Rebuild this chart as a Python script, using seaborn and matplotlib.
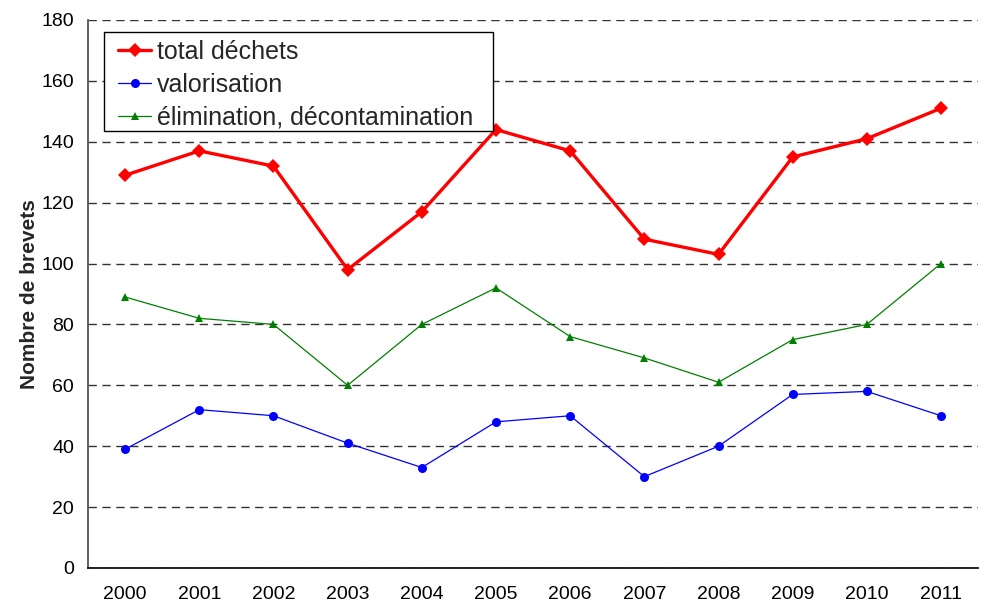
import matplotlib
matplotlib.use("Agg")
import matplotlib.pyplot as plt
from matplotlib.patches import Rectangle
from matplotlib.ticker import MultipleLocator, FixedLocator, NullFormatter
import seaborn as sns

years = ["2000", "2001", "2002", "2003", "2004", "2005",
         "2006", "2007", "2008", "2009", "2010", "2011"]
total_dechets = [129, 137, 132, 98, 117, 144, 137, 108, 103, 135, 141, 151]
valorisation = [39, 52, 50, 41, 33, 48, 50, 30, 40, 57, 58, 50]
elimination = [89, 82, 80, 60, 80, 92, 76, 69, 61, 75, 80, 100]

sns.set_theme(style="white")
plt.rcParams["font.family"] = ["Liberation Sans", "DejaVu Sans"]

fig = plt.figure(figsize=(9.87, 6.05), dpi=100)
ax = fig.add_axes([0.0892, 0.0612, 0.9018, 0.9058])

pos = list(range(len(years)))
series = [
    ("total déchets", total_dechets, "#ff0000", "D", 2.4, 7),
    ("valorisation", valorisation, "#0000ff", "o", 0.9, 6.5),
    ("élimination, décontamination", elimination, "#008000", "^", 0.9, 6),
]
for label, vals, color, marker, lw, ms in series:
    sns.lineplot(x=pos, y=vals, ax=ax, color=color, marker=marker,
                 linewidth=lw, markersize=ms, markeredgewidth=0,
                 label=label, zorder=3)

ax.set_xlim(-0.5, len(years) - 0.5)
ax.set_ylim(0, 180)
ax.yaxis.set_major_locator(MultipleLocator(20))
ax.xaxis.set_major_locator(FixedLocator(pos))
ax.set_xticklabels(years)
ax.xaxis.set_minor_locator(FixedLocator([p - 0.5 for p in pos] + [len(years) - 0.5]))
ax.xaxis.set_minor_formatter(NullFormatter())
ax.tick_params(axis="x", which="major", length=0, labelsize=14, pad=13, colors="black")
ax.tick_params(axis="x", which="minor", length=6, width=1, color="#555555", direction="out")
ax.tick_params(axis="y", which="major", length=6, width=1, color="#555555",
               direction="out", labelsize=14, pad=4, labelcolor="black")

ax.grid(axis="y", color="#333333", linestyle=(0, (6, 4)), linewidth=1.0, zorder=1)
ax.grid(axis="x", visible=False)

for side in ["top", "right"]:
    ax.spines[side].set_visible(False)
ax.spines["left"].set_color("#555555")
ax.spines["left"].set_linewidth(1.3)
ax.spines["bottom"].set_color("#111111")
ax.spines["bottom"].set_linewidth(1.3)

ax.set_xlabel("")
ax.set_ylabel("Nombre de brevets", fontsize=15, fontweight="bold", labelpad=2)

# Legend box drawn separately so the inner margins can be set freely
ax.add_patch(Rectangle((0.018, 0.797), 0.437, 0.181, transform=ax.transAxes,
                       facecolor="white", edgecolor="black", linewidth=1.0,
                       zorder=4, clip_on=False))
leg = ax.legend(loc="upper left", bbox_to_anchor=(0.034, 0.963), fontsize=18,
                frameon=False, handlelength=1.3, handletextpad=0.25,
                borderpad=0, labelspacing=0.35, borderaxespad=0)
leg.set_zorder(5)

fig.savefig("out.png", dpi=100)
